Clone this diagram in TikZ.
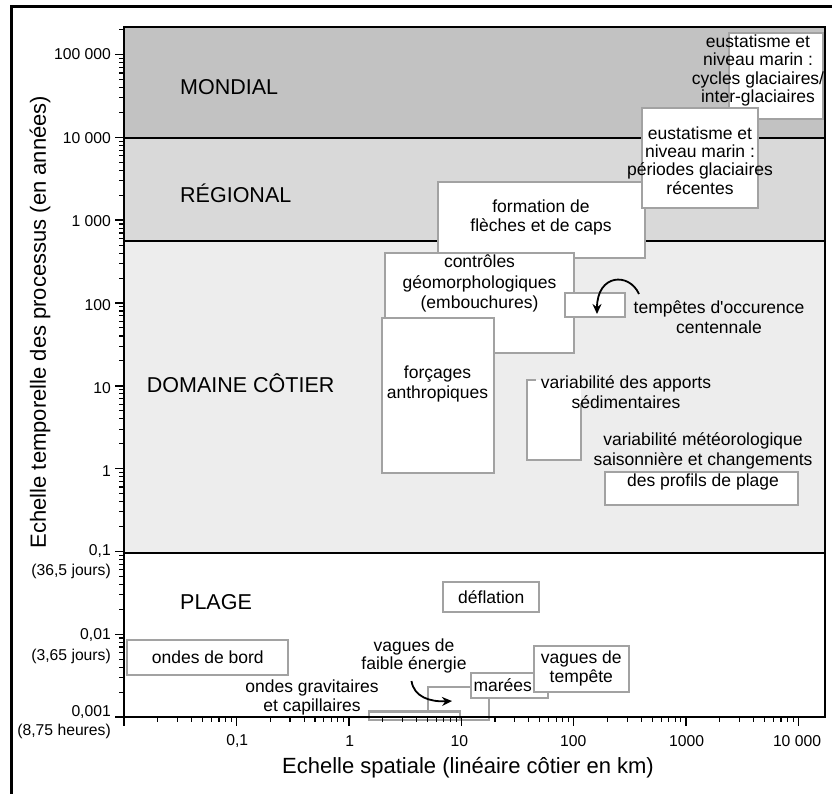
\documentclass[tikz,border=0pt]{standalone}
\usepackage{fontspec}
\setmainfont{Liberation Sans}
\usetikzlibrary{arrows.meta}
\definecolor{mondialc}{HTML}{C2C2C2}
\definecolor{regionc}{HTML}{D9D9D9}
\definecolor{domainec}{HTML}{EDEDED}
\definecolor{boxline}{HTML}{A2A2A2}
\newcommand{\straightq}{\XeTeXglyph\XeTeXcharglyph"27\relax}
\begin{document}
\begin{tikzpicture}[x=1pt,y=-1pt,
  procbox/.style={draw=boxline,fill=white,line width=2.2pt},
  boxtxt/.style={inner sep=0pt,align=center,font=\fontsize{17.5}{20}\selectfont},
  ticklab/.style={inner sep=0pt,font=\fontsize{15.7}{18}\selectfont},
  zonelab/.style={inner sep=0pt,anchor=west,font=\fontsize{21.5}{24}\selectfont},
  axtitle/.style={inner sep=0pt,font=\fontsize{22}{24}\selectfont},
  curvarrow/.style={line width=1.8pt,-{Stealth[length=10pt,width=9pt]}}]
\useasboundingbox (0,0) rectangle (832,794);
\fill[white] (0,0) rectangle (832,794);
% outer frame
\draw[line width=3pt] (11,794) -- (11,7) -- (832,7);
% zones
\fill[mondialc] (124,27) rectangle (825,138);
\fill[regionc] (124,138) rectangle (825,241);
\fill[domainec] (124,241) rectangle (825,553);
\draw[line width=1.8pt] (124,138) -- (825,138);
\draw[line width=1.8pt] (124,241) -- (825,241);
\draw[line width=1.8pt] (124,553) -- (825,553);
% boxes
\draw[procbox] (729.3,33.3) rectangle (823.3,119.3);
\draw[procbox] (438.3,181.7) rectangle (645,258.3);
\draw[procbox] (641.7,108.3) rectangle (758.3,208.3);
\draw[procbox] (385,252.7) rectangle (574,353.3);
\draw[procbox] (381.7,318.3) rectangle (494,473.3);
\draw[procbox] (565,293.3) rectangle (625,317.3);
\fill[white] (526.7,380) rectangle (580.7,460);
\draw[boxline,line width=2.2pt] (536,380) -- (526.7,380) -- (526.7,460) -- (580.7,460) -- (580.7,403);
\draw[procbox] (605,471.7) rectangle (797.7,505);
\draw[procbox] (443.3,582.3) rectangle (539.3,612.3);
\draw[procbox] (127.3,640) rectangle (288.3,675);
\draw[procbox] (428.3,686.7) rectangle (489.3,720);
\draw[procbox] (369.3,711.5) rectangle (460,720);
\draw[procbox] (471,673.3) rectangle (548.3,697.7);
\draw[procbox] (534.3,645.7) rectangle (629.3,692.3);
% ticks
\foreach \d in {-3,...,5}{
  \draw[line width=1.4pt] (115,{717-(\d+3)*82.8}) -- (124,{717-(\d+3)*82.8});
}
\foreach \d in {-3,...,4}{
  \foreach \k in {2,...,9}{
    \draw[line width=1.1pt] (119,{717-(\d+3+log10(\k))*82.8}) -- (124,{717-(\d+3+log10(\k))*82.8});
  }
}
\draw[line width=1.1pt] (119,{717-(8+log10(2))*82.8}) -- (124,{717-(8+log10(2))*82.8});
\foreach \d in {-2,...,4}{
  \draw[line width=1.4pt] ({124+(\d+2)*112.4},717) -- ({124+(\d+2)*112.4},726);
}
\foreach \d in {-2,...,3}{
  \foreach \k in {2,...,9}{
    \draw[line width=1.1pt] ({124+(\d+2+log10(\k))*112.4},717) -- ({124+(\d+2+log10(\k))*112.4},722);
  }
}
% plot frame
\draw[line width=2.2pt] (124,27) rectangle (825,717);
% zone labels
\node[zonelab] (zm) at (180,86.7) {MONDIAL};
\node[zonelab] (zr) at (180,193) {RÉGIONAL};
\node[zonelab] (zd) at (146.7,383) {DOMAINE CÔTIER};
\node[zonelab] (zp) at (180,601.7) {PLAGE};
% y tick labels
\node[ticklab,anchor=east] (y5) at (111,54.3) {100 000};
\node[ticklab,anchor=east] (y4) at (111,138) {10 000};
\node[ticklab,anchor=east] (y3) at (111,221) {1 000};
\node[ticklab,anchor=east] (y2) at (111,305) {100};
\node[ticklab,anchor=east] (y1) at (111,388) {10};
\node[ticklab,anchor=east] (y0) at (111,471) {1};
\node[ticklab,anchor=east] (ym1) at (111,551) {0,1};
\node[ticklab,anchor=east] (ym1b) at (111,571) {(36,5 jours)};
\node[ticklab,anchor=east] (ym2) at (111,635) {0,01};
\node[ticklab,anchor=east] (ym2b) at (111,656.7) {(3,65 jours)};
\node[ticklab,anchor=east] (ym3) at (111,711.7) {0,001};
\node[ticklab,anchor=east] (ym3b) at (111,731.7) {(8,75 heures)};
% x tick labels
\node[ticklab] (xm1) at (237.3,741) {0,1};
\node[ticklab] (x0) at (349.7,741) {1};
\node[ticklab] (x1) at (459.3,741) {10};
\node[ticklab] (x2) at (573.3,741) {100};
\node[ticklab] (x3) at (686.7,741) {1000};
\node[ticklab] (x4) at (797,741) {10 000};
% axis titles
\node[axtitle] (xt) at (468,768) {Echelle spatiale (linéaire côtier en km)};
\node[axtitle,rotate=90] (yt) at (40,322) {Echelle temporelle des processus (en années)};
% box texts
\node[boxtxt,font=\fontsize{17.5}{18.3}\selectfont] (t1) at (758,70.5) {eustatisme et\\niveau marin :\\cycles glaciaires/\\inter-glaciaires};
\node[boxtxt,font=\fontsize{17.5}{18.3}\selectfont] (t2) at (700,160.5) {eustatisme et\\niveau marin :\\périodes glaciaires\\récentes};
\node[boxtxt,font=\fontsize{17.5}{18.7}\selectfont] (t3) at (541,217.3) {formation de\\flèches et de caps};
\node[boxtxt,font=\fontsize{17.5}{20.3}\selectfont] (t4) at (479.5,283.5) {contrôles\\géomorphologiques\\(embouchures)};
\node[boxtxt] (t5) at (437.5,384) {forçages\\anthropiques};
\node[boxtxt,font=\fontsize{17.5}{20.4}\selectfont] (t6) at (719,317.5) {tempêtes d\straightq occurence\\centennale};
\node[boxtxt] (t7) at (626,391.7) {variabilité des apports\\sédimentaires};
\node[boxtxt,font=\fontsize{17.5}{20.3}\selectfont] (t8) at (703,461.3) {variabilité météorologique\\saisonnière et changements\\des profils de plage};
\node[boxtxt] (t9) at (491.3,597.3) {déflation};
\node[boxtxt] (t10) at (207.8,657.5) {ondes de bord};
\node[boxtxt,font=\fontsize{17.5}{19.3}\selectfont] (t11) at (581.3,668.7) {vagues de\\tempête};
\node[boxtxt] (t12) at (502.7,685.5) {marées};
\node[boxtxt,font=\fontsize{17.5}{18.3}\selectfont] (t13) at (414,656) {vagues de\\faible énergie};
\node[boxtxt,font=\fontsize{17.5}{19}\selectfont] (t14) at (312,697.8) {ondes gravitaires\\et capillaires};
% arrows
\coordinate (a1s) at (639,294);
\coordinate (a1e) at (597,314);
\draw[curvarrow] (a1s) .. controls (629,272) and (597,274) .. (a1e);
\coordinate (a2s) at (411.5,681);
\coordinate (a2e) at (452,701);
\draw[curvarrow] (a2s) .. controls (414,697) and (430,702) .. (a2e);
\end{tikzpicture}
\end{document}
